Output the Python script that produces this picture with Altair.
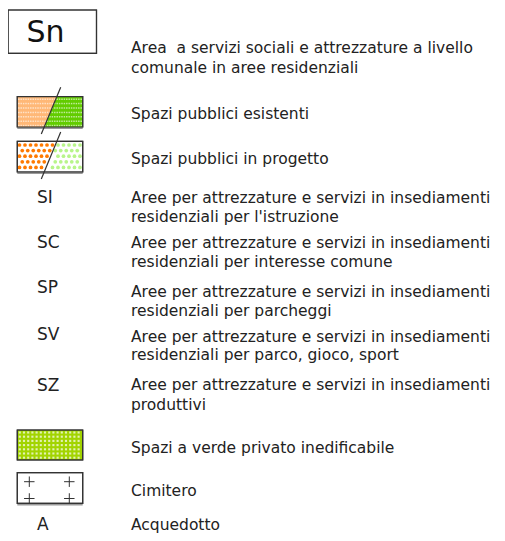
import altair as alt
import pandas as pd
import numpy as np

FONT = "DejaVu Sans"
INK = "#222222"

# ---------------- legend content ----------------
big_code = ["Sn"]
codes = ["SI", "SC", "SP", "SV", "SZ", "A"]
code_rows = [198, 243, 288, 335, 386, 525]

description_lines = [
    "Area\u00a0 a servizi sociali e attrezzature a livello",
    "comunale in aree residenziali",
    "Spazi pubblici esistenti",
    "Spazi pubblici in progetto",
    "Aree per attrezzature e servizi in insediamenti",
    "residenziali per l'istruzione",
    "Aree per attrezzature e servizi in insediamenti",
    "residenziali per interesse comune",
    "Aree per attrezzature e servizi in insediamenti",
    "residenziali per parcheggi",
    "Aree per attrezzature e servizi in insediamenti",
    "residenziali per parco, gioco, sport",
    "Aree per attrezzature e servizi in insediamenti",
    "produttivi",
    "Spazi a verde privato inedificabile",
    "Cimitero",
    "Acquedotto",
]
description_rows = [48, 68, 114, 159, 198, 217, 243, 262, 292, 311,
                    337, 355, 385, 405, 448, 491, 525]

# symbol boxes (layout): name, left, right, top, bottom, fill
box_names = ["Sn", "esistenti", "progetto", "verde", "cimitero"]
box_left = [8, 17.3, 17.3, 17.3, 17.3]
box_right = [96.5, 82.7, 82.7, 82.7, 82.7]
box_top = [10, 96.7, 141.3, 430, 472.7]
box_bottom = [53.3, 127, 172, 460, 503.3]
box_fill = ["#ffffff", "none", "#ffffff", "#A2D400", "#ffffff"]

# slash across the two "spazi pubblici" boxes: top point / bottom point
slash_x1 = [60.7, 60.7]
slash_y1 = [87.3, 132]
slash_x2 = [41.3, 41.3]
slash_y2 = [134, 179]

# cemetery crosses
cross_x = [29.3, 69.3, 29.3, 69.3]
cross_y = [481.7, 481.7, 498.5, 498.5]

ORANGE_EX = "#FFB877"
GREEN_EX = "#62CC00"
ORANGE_DOT = "#FF7A00"
GREEN_DOT = "#B8F58A"

# ---------------- scales ----------------
xs = alt.Scale(domain=[8, 497], nice=False, zero=False)
ys = alt.Scale(domain=[8, 533], nice=False, zero=False, reverse=True)


def X(f):
    return alt.X(f, type="quantitative", scale=xs, axis=None)


def Y(f):
    return alt.Y(f, type="quantitative", scale=ys, axis=None)


def slash_x(i, y):
    return slash_x1[i] + (y - slash_y1[i]) * (slash_x2[i] - slash_x1[i]) / (slash_y2[i] - slash_y1[i])


boxes = pd.DataFrame({"name": box_names, "x1": box_left, "x2": box_right,
                      "y1": box_top, "y2": box_bottom, "fill": box_fill})

# existing public spaces: orange / green halves split by the slash
t, b = box_top[1], box_bottom[1]
halves = pd.DataFrame({
    "part": ["esist-o", "esist-o", "esist-g", "esist-g"],
    "y": [t, b, t, b],
    "xa": [box_left[1], box_left[1], slash_x(0, t), slash_x(0, b)],
    "xb": [slash_x(0, t), slash_x(0, b), box_right[1], box_right[1]],
})

# white texture on the existing halves
tex = []
yy = t + 2.5
while yy < b - 1:
    xx = box_left[1] + 1.5
    while xx < box_right[1] - 1:
        tex.append((xx, yy))
        xx += 2.4
    yy += 4.4
tex = pd.DataFrame(tex, columns=["x", "y"])

# dotted pattern of projected spaces
dots = []
t2, b2 = box_top[2], box_bottom[2]
for i, ry in enumerate(np.arange(t2 + 3.7, b2 - 2, 5.6)):
    off = 0 if i % 2 == 0 else 2.75
    xx = box_left[2] + 2.2 + off
    while xx < box_right[2] - 1.5:
        s = slash_x(1, ry)
        if xx < s - 2.2:
            dots.append((xx, ry, "prog-o"))
        elif xx > s + 2.2:
            dots.append((xx, ry, "prog-g"))
        xx += 5.5
dots = pd.DataFrame(dots, columns=["x", "y", "part"])

# grid texture of private green
grid = []
t3, b3 = box_top[3], box_bottom[3]
for ry in np.arange(t3 + 2.5, b3 - 1, 4.2):
    for rx in np.arange(box_left[3] + 2.5, box_right[3] - 1, 4.2):
        grid.append((rx, ry))
grid = pd.DataFrame(grid, columns=["x", "y"])

slashes = pd.DataFrame({"x1": slash_x1, "y1": slash_y1, "x2": slash_x2, "y2": slash_y2})
crosses = pd.DataFrame({"x": cross_x, "y": cross_y})
shadow = boxes[boxes["name"].isin(["esistenti", "progetto", "cimitero"])].copy()
shadow["ys"] = shadow["y2"] + 1.3

desc = pd.DataFrame({"text": description_lines, "y": description_rows})
desc["x"] = 131
code_df = pd.DataFrame({"text": codes, "y": code_rows})
code_df["x"] = 37
sn_df = pd.DataFrame({"text": big_code, "x": [45.5], "y": [32.5]})

part_scale = alt.Scale(
    domain=["esist-o", "esist-g", "prog-o", "prog-g"],
    range=[ORANGE_EX, GREEN_EX, ORANGE_DOT, GREEN_DOT],
)

# ---------------- layers ----------------
box_layer = alt.Chart(boxes).mark_rect(stroke="#333333", strokeWidth=1.2).encode(
    x=X("x1"), x2="x2", y=Y("y1"), y2="y2",
    fill=alt.Fill("fill:N", scale=None),
)

shadow_layer = alt.Chart(shadow).mark_rule(color="#9a9a9a", strokeWidth=1.6).encode(
    x=X("x1"), x2="x2", y=Y("ys"),
)

halves_layer = alt.Chart(halves).mark_area(orient="horizontal").encode(
    y=Y("y"), x=X("xa"), x2="xb",
    color=alt.Color("part:N", scale=part_scale, legend=None),
)

tex_layer = alt.Chart(tex).mark_square(size=2.2, color="#ffffff", opacity=0.6).encode(
    x=X("x"), y=Y("y"),
)

dots_layer = alt.Chart(dots).mark_circle(size=14, opacity=1).encode(
    x=X("x"), y=Y("y"),
    color=alt.Color("part:N", scale=part_scale, legend=None),
)

grid_layer = alt.Chart(grid).mark_square(size=4.5, color="#ffffff", opacity=0.7).encode(
    x=X("x"), y=Y("y"),
)

box_outline = alt.Chart(boxes).mark_rect(stroke="#333333", strokeWidth=1.2, fill=None, fillOpacity=0).encode(
    x=X("x1"), x2="x2", y=Y("y1"), y2="y2",
)

slash_layer = alt.Chart(slashes).mark_rule(color="#333333", strokeWidth=1.2).encode(
    x=X("x1"), y=Y("y1"), x2="x2", y2="y2",
)

cross_layer = alt.Chart(crosses).mark_point(
    shape="M-1,0L1,0M0,-1L0,1", size=110, filled=False, color="#333333", strokeWidth=1, opacity=1
).encode(x=X("x"), y=Y("y"))

desc_layer = alt.Chart(desc).mark_text(
    align="left", baseline="middle", font=FONT, fontSize=15.5, color=INK
).encode(x=X("x"), y=Y("y"), text="text:N")

code_layer = alt.Chart(code_df).mark_text(
    align="left", baseline="middle", font=FONT, fontSize=17, color=INK
).encode(x=X("x"), y=Y("y"), text="text:N")

sn_layer = alt.Chart(sn_df).mark_text(
    align="center", baseline="middle", font=FONT, fontSize=30, color="#111111"
).encode(x=X("x"), y=Y("y"), text="text:N")

chart = alt.layer(
    box_layer, shadow_layer, halves_layer, tex_layer, dots_layer, grid_layer,
    box_outline, slash_layer, cross_layer, desc_layer, code_layer, sn_layer,
).properties(
    width=489, height=525, padding=0, autosize=alt.AutoSizeParams(type="none"),
    background="#ffffff",
).configure_view(stroke=None)

chart.save("out.html", embed_options={"renderer": "svg", "actions": False})
